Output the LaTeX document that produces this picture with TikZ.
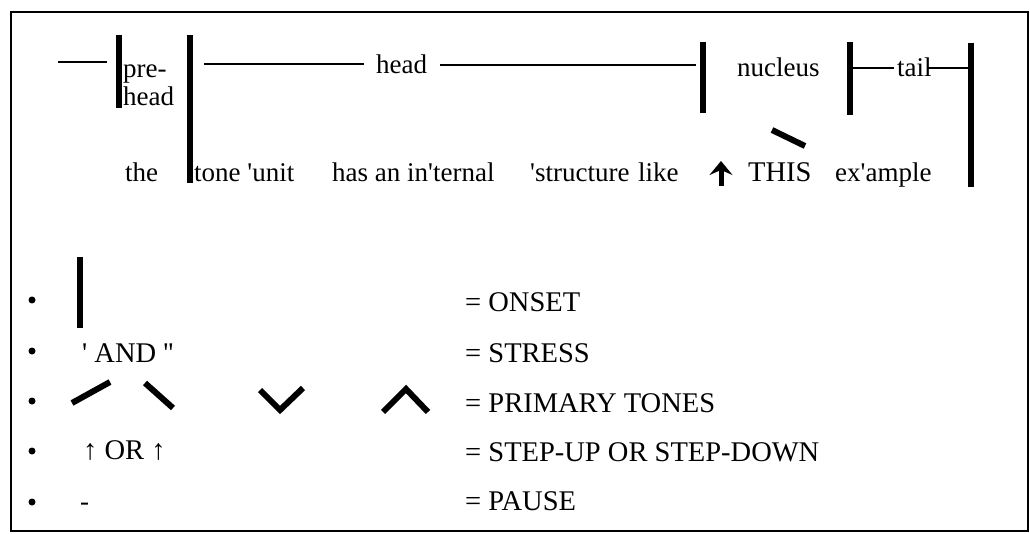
\documentclass[tikz,border=0pt]{standalone}
\usepackage{fontspec}
\setmainfont{Liberation Serif}
\usetikzlibrary{arrows.meta}
\newcommand\tk{\textquotesingle}
\begin{document}
\begin{tikzpicture}[x=1pt,y=-1pt,
  word/.style={anchor=base west, inner sep=0pt, font=\fontsize{27}{30}\selectfont},
  capword/.style={word, font=\fontsize{28.5}{31}\selectfont},
  onsetbar/.style={line width=6pt},
  rule/.style={line width=1.4pt},
  tonemark/.style={line width=6pt},
  bullet/.style={circle, fill, inner sep=0pt, minimum size=7pt},
]
\useasboundingbox (0,0) rectangle (1030,534);
\draw[line width=1.2pt] (11,12) rectangle (1028,531);

% ---- tone-unit structure: onset bars ----
\coordinate (b1t) at (119,35);  \coordinate (b1b) at (119,108);
\coordinate (b2t) at (190,35);  \coordinate (b2b) at (190,183);
\coordinate (b3t) at (703,42);  \coordinate (b3b) at (703,113);
\coordinate (b4t) at (850,42);  \coordinate (b4b) at (850,115);
\coordinate (b5t) at (971,43);  \coordinate (b5b) at (971,187);
\foreach \b in {1,...,5} \draw[onsetbar] (b\b t) -- (b\b b);

% ---- labels of the parts ----
\node[word] (pre)  at (123,78)  {pre-};
\node[word] (prehd) at (123,106) {head};
\node[word] (head) at (376,74)  {head};
\node[word] (nuc)  at (737,77)  {nucleus};
\node[word] (tail) at (897,77)  {tail};

% ---- spans ----
\coordinate (d0) at (58,62);   \coordinate (d1) at (107,62);
\coordinate (h0) at (204,64);  \coordinate (h1) at (364,64);
\coordinate (h2) at (440,65);  \coordinate (h3) at (696,65);
\coordinate (t0) at (853,68);  \coordinate (t1) at (894,68);
\coordinate (t2) at (928,68);  \coordinate (t3) at (968,68);
\draw[rule] (d0) -- (d1);
\draw[rule] (h0) -- (h1);
\draw[rule] (h2) -- (h3);
\draw[rule] (t0) -- (t1);
\draw[rule] (t2) -- (t3);

% ---- example sentence ----
\node[word] (w1) at (125,182) {the};
\node[word] (w2) at (194,182) {tone \tk unit};
\node[word] (w3) at (332,182) {has an in\tk ternal};
\node[word] (w4) at (530,182) {\tk structure};
\node[word] (w5) at (638,182) {like};
\node[capword] (w6) at (748,182) {THIS};
\node[word] (w7) at (835,182) {ex\tk ample};
\coordinate (up0) at (721,186); \coordinate (up1) at (721,161);
\draw[line width=5pt, -{Stealth[length=14pt,width=23pt,inset=5pt]}] (up0) -- (up1);
\coordinate (fa0) at (772,130); \coordinate (fa1) at (805,146);
\draw[tonemark] (fa0) -- (fa1);

% ---- key ----
\foreach \r/\y in {1/300,2/351,3/401,4/451,5/502}
  \node[bullet] (dot\r) at (32,\y) {};

\coordinate (k1t) at (80,257); \coordinate (k1b) at (80,328);
\draw[onsetbar] (k1t) -- (k1b);
\node[capword] (k2) at (82,362) {\tk\ AND \tk\tk};
\coordinate (r0) at (72,403);  \coordinate (r1) at (110,382);
\coordinate (f0) at (145,383); \coordinate (f1) at (173,408);
\coordinate (v0) at (260,390); \coordinate (v1) at (280,410); \coordinate (v2) at (303,388);
\coordinate (c0) at (383,412); \coordinate (c1) at (406,389); \coordinate (c2) at (428,412);
\draw[tonemark] (r0) -- (r1);
\draw[tonemark] (f0) -- (f1);
\draw[tonemark] (v0) -- (v1) -- (v2);
\draw[tonemark] (c0) -- (c1) -- (c2);
\node[capword] (k4) at (83,459) {↑ OR ↑};
\node[word] (k5) at (80,510) {-};

\node[capword] (e1) at (465,312) {= ONSET};
\node[capword] (e2) at (465,362) {= STRESS};
\node[capword] (e3) at (465,412) {= PRIMARY TONES};
\node[capword] (e4) at (465,461) {= STEP-UP OR STEP-DOWN};
\node[capword] (e5) at (465,510) {= PAUSE};
\end{tikzpicture}
\end{document}
